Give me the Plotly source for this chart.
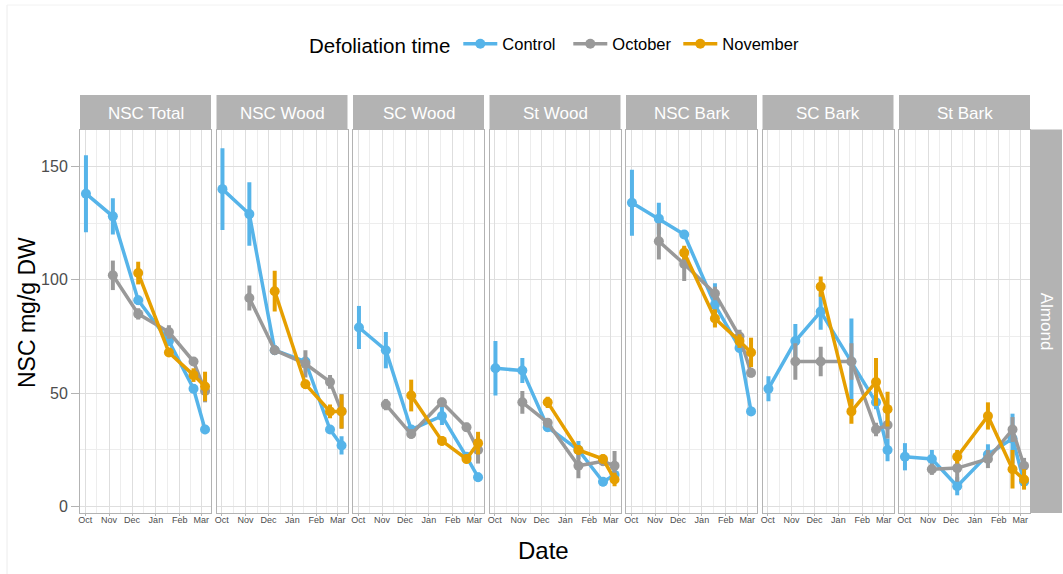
import plotly.graph_objects as go

# ---------------- data ----------------
panels = ["NSC Total", "NSC Wood", "SC Wood", "St Wood", "NSC Bark", "SC Bark", "St Bark"]
row_label = "Almond"
dates = ["2018-10-02", "2018-11-06", "2018-12-09", "2019-01-18", "2019-02-19", "2019-03-06"]
tick_dates = ["2018-10-01", "2018-11-01", "2018-12-01", "2019-01-01", "2019-02-01", "2019-03-01"]
tick_labels = ["Oct", "Nov", "Dec", "Jan", "Feb", "Mar"]
minor_dates = ["2018-10-16", "2018-11-16", "2018-12-16", "2019-01-16", "2019-02-15"]
y_ticks = [0, 50, 100, 150]
y_minor = [25, 75, 125]

series_names = ["Control", "October", "November"]

# Control: Oct..Mar
control_mean = [
    [138, 128, 91, 73, 52, 34],
    [140, 129, 69, 64, 34, 27],
    [79, 69, 34, 40, 22, 13],
    [61, 60, 35, 25, 11, 14],
    [134, 127, 120, 89, 70, 42],
    [52, 73, 86, 64, 46, 25],
    [22, 21, 9, 23, 30, 11],
]
control_err = [
    [17, 8, 2, 2, 2, 2],
    [18, 14, 2, 2, 2, 4],
    [9.5, 8, 2, 4, 2, 2],
    [12, 5.5, 2, 4, 2, 2],
    [14.5, 7, 2, 9.5, 2, 2],
    [5.5, 7.5, 8, 19, 3, 5],
    [6, 4, 4, 4.5, 11, 2],
]
# October: Nov..Mar
october_mean = [
    [102, 85, 77, 64, 51],
    [92, 69, 63, 55, 42],
    [45, 32, 46, 35, 25],
    [46, 37, 18, 20, 18],
    [117, 107, 94, 75, 59],
    [64, 64, 64, 34, 36],
    [16.5, 17, 21, 34, 18],
]
october_err = [
    [6.5, 2.5, 3, 2, 5],
    [5.5, 2, 6, 3, 7.7],
    [2.5, 2, 2, 2, 6],
    [5, 2, 5.5, 2, 6.5],
    [8, 7.5, 3, 3, 2],
    [8, 6.5, 8, 3, 6],
    [2.5, 6, 4, 5.5, 3.5],
]
# November: Dec..Mar
november_mean = [
    [103, 68, 58, 53],
    [95, 54, 42, 42],
    [49, 29, 21, 28],
    [46, 25, 21, 12],
    [112, 83, 73, 68],
    [97, 42, 55, 43],
    [22, 40, 16.5, 12],
]
november_err = [
    [5, 2, 3, 6.5],
    [9, 2, 3, 7.5],
    [7, 2, 2, 5],
    [2.5, 2, 2, 3],
    [3, 4, 3, 6.5],
    [4.5, 5.5, 10.5, 7.7],
    [3, 6, 8.5, 4.5],
]

colors = ["#56B4E9", "#999999", "#E69F00"]
legend_item_widths = [61, 61, 90]

# ---------------- layout geometry ----------------
W, H = 1063, 574
ML, MR, MT, MB = 80, 1, 95, 61
PW = W - ML - MR
PH = H - MT - MB
panel_w = 131
panel_step = 136.5
panel_top = 129.5
panel_bottom = H - MB


def px_to_x(p):
    return (p - ML) / PW


def py_to_y(p):
    return (H - MB - p) / PH


fig = go.Figure()

series_data = [
    (control_mean, control_err, dates),
    (october_mean, october_err, dates[1:]),
    (november_mean, november_err, dates[2:]),
]

for i, pname in enumerate(panels):
    xa = "x" if i == 0 else f"x{i+1}"
    ya = "y" if i == 0 else f"y{i+1}"
    for s, (means, errs, xs) in enumerate(series_data):
        fig.add_trace(go.Scatter(
            x=xs, y=means[i],
            mode="lines+markers",
            name=series_names[s],
            legendgroup=series_names[s],
            legendwidth=legend_item_widths[s],
            showlegend=(i == 0),
            line=dict(color=colors[s], width=3.5),
            marker=dict(color=colors[s], size=10),
            error_y=dict(type="data", array=errs[i], visible=True,
                         color=colors[s], thickness=4, width=0),
            xaxis=xa, yaxis=ya,
        ))

grid_major = "#DEDEDE"
grid_minor = "#EDEDED"
border = "#B3B3B3"
strip_fill = "#B3B3B3"

layout = dict(
    width=W, height=H,
    margin=dict(l=ML, r=MR, t=MT, b=MB),
    paper_bgcolor="white", plot_bgcolor="white",
    font=dict(family="Liberation Sans, Arial, sans-serif", color="#4D4D4D"),
    showlegend=True,
    legend=dict(
        orientation="h",
        x=px_to_x(307), xanchor="left",
        y=py_to_y(45), yanchor="middle",
        title=dict(text="Defoliation time", font=dict(size=20.5, color="black")),
        font=dict(size=16.5, color="black"),
        itemwidth=34,
        bgcolor="rgba(0,0,0,0)",
    ),
)

shapes = []
annotations = []
for i, pname in enumerate(panels):
    left = ML + panel_step * i
    right = left + panel_w
    xkey = "xaxis" if i == 0 else f"xaxis{i+1}"
    ykey = "yaxis" if i == 0 else f"yaxis{i+1}"
    anchor_x = "y" if i == 0 else f"y{i+1}"
    anchor_y = "x" if i == 0 else f"x{i+1}"
    layout[xkey] = dict(
        domain=[px_to_x(left), px_to_x(right)],
        anchor=anchor_x,
        type="date",
        range=["2018-09-24 06:00", "2019-03-13 18:00"],
        tickmode="array", tickvals=tick_dates, ticktext=tick_labels,
        tickfont=dict(size=9, color="#4D4D4D"),
        ticks="outside", ticklen=2, tickcolor=border,
        ticklabelstandoff=-4,
        showgrid=True, gridcolor=grid_major, gridwidth=1,
        minor=dict(tickmode="array", tickvals=minor_dates, showgrid=True,
                   gridcolor=grid_minor, gridwidth=0.6, ticks=""),
        showline=True, mirror=True, linecolor=border, linewidth=1,
        zeroline=False,
    )
    layout[ykey] = dict(
        domain=[0, py_to_y(panel_top)],
        anchor=anchor_y,
        range=[-2.8, 166.3],
        tickmode="array", tickvals=y_ticks,
        showticklabels=(i == 0),
        tickfont=dict(size=16, color="#4D4D4D"),
        ticks="outside" if i == 0 else "", ticklen=8, tickcolor=border,
        showgrid=True, gridcolor=grid_major, gridwidth=1,
        minor=dict(tickmode="array", tickvals=y_minor, showgrid=True,
                   gridcolor=grid_minor, gridwidth=0.6, ticks=""),
        showline=True, mirror=True, linecolor=border, linewidth=1,
        zeroline=False,
    )
    # strip
    shapes.append(dict(type="rect", xref="paper", yref="paper",
                       x0=px_to_x(left), x1=px_to_x(right),
                       y0=py_to_y(panel_top), y1=py_to_y(95),
                       fillcolor=strip_fill, line=dict(width=0), layer="below"))
    annotations.append(dict(text=pname, xref="paper", yref="paper",
                            x=px_to_x((left + right) / 2), y=py_to_y(113),
                            xanchor="center", yanchor="middle", showarrow=False,
                            font=dict(size=17, color="white")))

# right strip
shapes.append(dict(type="rect", xref="paper", yref="paper",
                   x0=px_to_x(1031), x1=px_to_x(1062),
                   y0=0, y1=py_to_y(panel_top),
                   fillcolor=strip_fill, line=dict(width=0), layer="below"))
annotations.append(dict(text=row_label, xref="paper", yref="paper",
                        x=px_to_x(1046.5), y=py_to_y((panel_top + panel_bottom) / 2),
                        xanchor="center", yanchor="middle", showarrow=False,
                        textangle=90, font=dict(size=17, color="white")))
# faint outer frame lines seen in the image
shapes.append(dict(type="line", xref="paper", yref="paper",
                   x0=px_to_x(7), x1=px_to_x(7), y0=py_to_y(574), y1=py_to_y(5),
                   line=dict(color="#ECECEC", width=1)))
shapes.append(dict(type="line", xref="paper", yref="paper",
                   x0=px_to_x(7), x1=px_to_x(1063), y0=py_to_y(5), y1=py_to_y(5),
                   line=dict(color="#F2F2F2", width=1)))
# axis titles
annotations.append(dict(text="Date", xref="paper", yref="paper",
                        x=px_to_x(543), y=py_to_y(550),
                        xanchor="center", yanchor="middle", showarrow=False,
                        font=dict(size=24, color="black")))
annotations.append(dict(text="NSC mg/g DW", xref="paper", yref="paper",
                        x=px_to_x(27), y=py_to_y(313),
                        xanchor="center", yanchor="middle", showarrow=False,
                        textangle=-90, font=dict(size=23, color="black")))

layout["shapes"] = shapes
layout["annotations"] = annotations
fig.update_layout(**layout)

fig.write_html("out.html")
